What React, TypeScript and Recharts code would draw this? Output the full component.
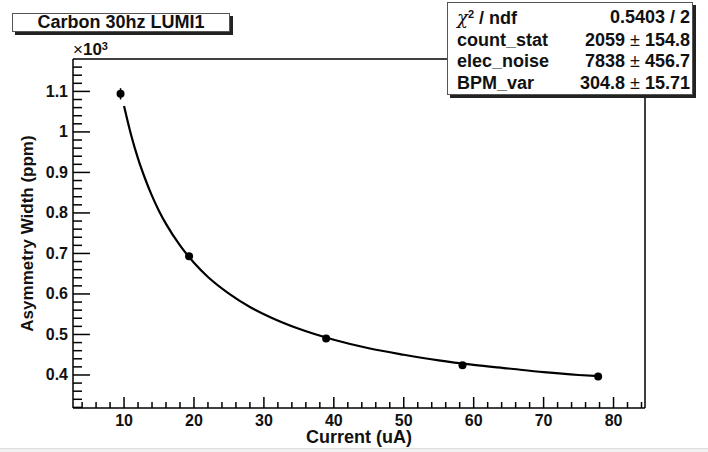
import { ComposedChart, ErrorBar, Line, ReferenceLine, Scatter, XAxis, YAxis } from "recharts";

const FONT = '"Liberation Sans", Arial, Helvetica, sans-serif';

// measured points (x = current in uA, y = width in units of 10^3 ppm)
const currents = [9.5, 19.3, 38.9, 58.4, 77.8];
const widths = [1.094, 0.693, 0.49, 0.424, 0.396];
const widthErrs = [0.014, 0.006, 0.004, 0.004, 0.004];

// fitted curve
const fitCurrents = [10, 11, 12, 13, 14, 15, 16, 18, 20, 22, 25, 28, 31, 35, 40, 45, 50, 55, 60, 65, 70, 75, 78];
const fitWidths = [
  1.064, 0.993, 0.934, 0.885, 0.842, 0.805, 0.773, 0.72, 0.677, 0.642, 0.601, 0.568, 0.542, 0.514, 0.487, 0.466,
  0.45, 0.436, 0.425, 0.416, 0.407, 0.4, 0.397,
];

const xDomain = [2.7, 84.5];
const yDomain = [0.3185, 1.18];
const xMajor = [10, 20, 30, 40, 50, 60, 70, 80];
const xTicks = [
  4, 6, 8, 10, 12, 14, 16, 18, 20, 22, 24, 26, 28, 30, 32, 34, 36, 38, 40, 42, 44, 46, 48, 50, 52, 54, 56, 58, 60, 62,
  64, 66, 68, 70, 72, 74, 76, 78, 80, 82, 84,
];
const yMajor = ["0.4", "0.5", "0.6", "0.7", "0.8", "0.9", "1", "1.1"];
const yTicks = [
  0.32, 0.34, 0.36, 0.38, 0.4, 0.42, 0.44, 0.46, 0.48, 0.5, 0.52, 0.54, 0.56, 0.58, 0.6, 0.62, 0.64, 0.66, 0.68, 0.7,
  0.72, 0.74, 0.76, 0.78, 0.8, 0.82, 0.84, 0.86, 0.88, 0.9, 0.92, 0.94, 0.96, 0.98, 1, 1.02, 1.04, 1.06, 1.08, 1.1,
  1.12, 1.14, 1.16,
];

const statNames = ["count_stat", "elec_noise", "BPM_var"];
const statValues = ["2059", "7838", "304.8"];
const statErrors = ["154.8", "456.7", "15.71"];

const pointRows = currents.map((x, i) => ({ x, w: widths[i], err: widthErrs[i] }));
const fitRows = fitCurrents.map((x, i) => ({ x, w: fitWidths[i] }));

const fmtY = (v: number) => String(Number(v.toFixed(2)));

function XTick(props: any) {
  const { x, y, payload } = props;
  const major = xMajor.includes(payload.value);
  return (
    <g>
      <line x1={x} y1={y} x2={x} y2={y - (major ? 11 : 6)} stroke="#000" strokeWidth={1.5} />
      {major && (
        <text x={x} y={y + 12} textAnchor="middle" dominantBaseline="central" fontFamily={FONT} fontWeight="bold" fontSize={16} fill="#111">
          {payload.value}
        </text>
      )}
    </g>
  );
}

function YTick(props: any) {
  const { x, y, payload } = props;
  const label = fmtY(payload.value);
  const major = yMajor.includes(label);
  return (
    <g>
      <line x1={x} y1={y} x2={x + (major ? 17 : 9)} y2={y} stroke="#000" strokeWidth={1.5} />
      {major && (
        <text x={x - 5} y={y} textAnchor="end" dominantBaseline="central" fontFamily={FONT} fontWeight="bold" fontSize={16} fill="#111">
          {label}
        </text>
      )}
    </g>
  );
}

function XTitle(props: any) {
  const vb = props.viewBox;
  return (
    <text x={vb.x + vb.width / 2} y={vb.y + 29} textAnchor="middle" dominantBaseline="central" fontFamily={FONT} fontWeight="bold" fontSize={18} fill="#111">
      Current (uA)
    </text>
  );
}

function YTitle(props: any) {
  const vb = props.viewBox;
  const cx = vb.x + vb.width - 46;
  const cy = vb.y + vb.height / 2;
  return (
    <text x={cx} y={cy} transform={`rotate(-90 ${cx} ${cy})`} textAnchor="middle" dominantBaseline="central" fontFamily={FONT} fontWeight="bold" fontSize={17} fill="#111">
      Asymmetry Width (ppm)
    </text>
  );
}

export default function App() {
  return (
    <div style={{ position: "absolute", left: 0, top: 0, width: 708, height: 452, background: "#fff", overflow: "hidden", fontFamily: FONT, color: "#111" }}>
      <ComposedChart width={708} height={452} margin={{ top: 59, right: 63, bottom: 43, left: 72 }}>
        <XAxis
          dataKey="x"
          type="number"
          domain={xDomain}
          allowDataOverflow
          ticks={xTicks}
          interval={0}
          height={1}
          tickSize={0}
          tickMargin={0}
          tickLine={false}
          axisLine={{ stroke: "#000", strokeWidth: 1.5 }}
          tick={<XTick />}
          label={{ content: <XTitle /> }}
        />
        <YAxis
          type="number"
          domain={yDomain}
          allowDataOverflow
          ticks={yTicks}
          interval={0}
          width={1}
          tickSize={0}
          tickMargin={0}
          tickLine={false}
          axisLine={{ stroke: "#000", strokeWidth: 1.5 }}
          tick={<YTick />}
          label={{ content: <YTitle /> }}
        />
        <ReferenceLine y={yDomain[1]} stroke="#000" strokeWidth={1.5} />
        <ReferenceLine x={xDomain[1]} stroke="#000" strokeWidth={1.5} />
        <Line data={fitRows} dataKey="w" type="monotone" stroke="#000" strokeWidth={2.2} dot={false} isAnimationActive={false} />
        <Scatter
          data={pointRows}
          dataKey="w"
          fill="#000"
          isAnimationActive={false}
          shape={(p: any) => <circle cx={p.cx} cy={p.cy} r={4} fill="#000" />}
        >
          <ErrorBar dataKey="err" direction="y" width={0} stroke="#000" strokeWidth={1.5} isAnimationActive={false} />
        </Scatter>
      </ComposedChart>

      <div
        style={{
          position: "absolute", left: 12, top: 13, width: 216, height: 17, border: "1px solid #555",
          boxShadow: "3px 3px 0 #222", background: "#fff", fontWeight: 700, fontSize: 18, lineHeight: "17px", textAlign: "center",
        }}
      >
        Carbon 30hz LUMI1
      </div>

      <div style={{ position: "absolute", left: 73, top: 41, fontSize: 17, lineHeight: "18px", fontWeight: 700, whiteSpace: "nowrap" }}>
        <span style={{ fontWeight: 400 }}>×</span>10
        <span style={{ fontSize: 11, verticalAlign: "top", lineHeight: "11px" }}>3</span>
      </div>

      <div
        style={{
          position: "absolute", left: 447, top: 2, width: 246, height: 93, boxSizing: "border-box", border: "1px solid #555",
          boxShadow: "3px 3px 0 #222", background: "#fff", padding: "4px 2px 0 9px", fontWeight: 700, fontSize: 18, lineHeight: "21.7px",
        }}
      >
        <div style={{ display: "flex", justifyContent: "space-between", whiteSpace: "nowrap" }}>
          <span>
            <span style={{ fontFamily: '"DejaVu Serif", serif', fontStyle: "italic", fontWeight: 400 }}>χ</span>
            <span style={{ fontSize: 11, verticalAlign: "top", lineHeight: "14px" }}>2</span> / ndf
          </span>
          <span>0.5403 / 2</span>
        </div>
        {statNames.map((n, i) => (
          <div key={n} style={{ display: "flex", justifyContent: "space-between", whiteSpace: "nowrap" }}>
            <span>{n}</span>
            <span>
              {statValues[i]} <span style={{ fontWeight: 400 }}>±</span> {statErrors[i]}
            </span>
          </div>
        ))}
      </div>

      <div style={{ position: "absolute", left: 0, top: 448, width: 708, height: 4, background: "#f0f0f0", borderTop: "1px solid #ddd" }} />
    </div>
  );
}
